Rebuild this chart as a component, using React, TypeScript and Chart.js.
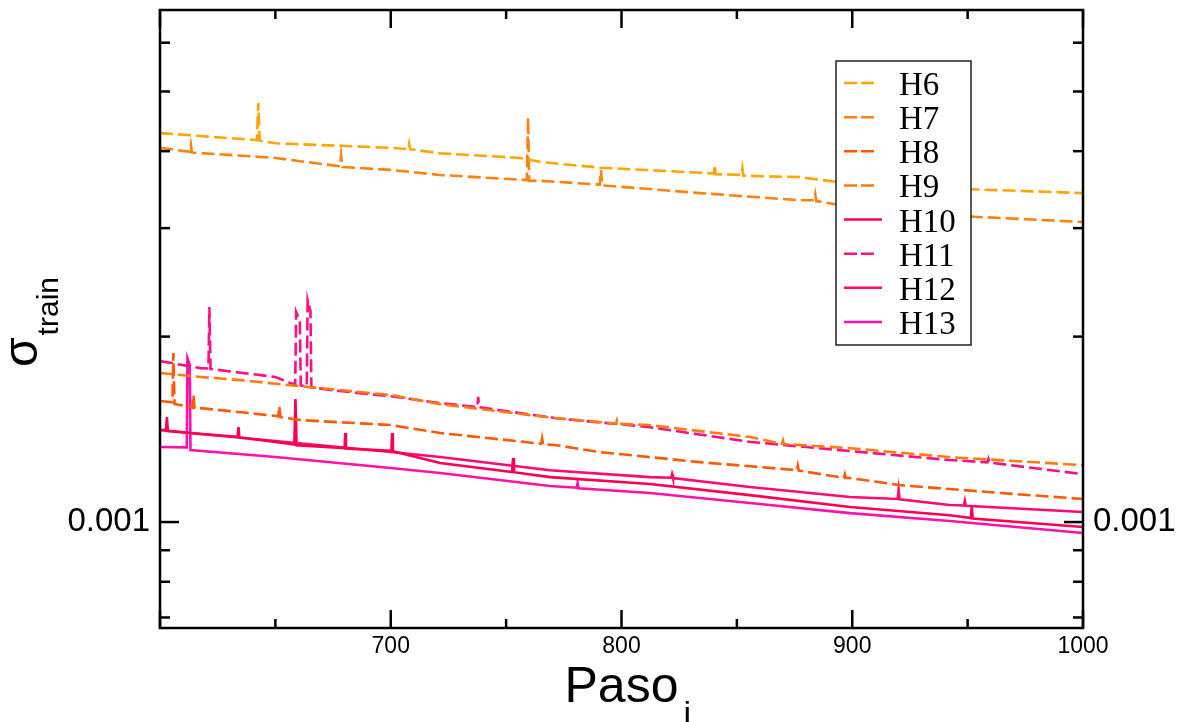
import React, { useEffect, useRef } from 'react';
import { Chart, registerables } from 'chart.js';
Chart.register(...registerables);

const X_MIN = 600;
const X_MAX = 1000;
const Y_MIN = 6.73e-4;
const Y_MAX = 6.78e-3;
const yTickValues = [7e-4, 8e-4, 9e-4, 1e-3, 2e-3, 3e-3, 4e-3, 5e-3, 6e-3];
const yLabeledTicks = [1e-3];
const xLabeledTicks = [700, 800, 900, 1000];

const seriesNames = ['H6', 'H7', 'H8', 'H9', 'H10', 'H11', 'H12', 'H13'];
const seriesColors = ['#FFA500', '#FF8210', '#FF5A00', '#FF7A10', '#FF0050', '#FF1080', '#FF0A70', '#FF10AA'];
const seriesDashed = [true, true, true, true, false, true, false, false];

const h6X = [600, 630, 642, 642.6, 643.2, 650, 700, 707.6, 708, 708.4, 721, 756, 765, 791, 834, 840, 840.4, 840.8, 852, 852.4, 852.8, 877, 895, 951, 1000];
const h6Y = [4.28e-3, 4.20e-3, 4.17e-3, 4.79e-3, 4.16e-3, 4.12e-3, 4.05e-3, 4.03e-3, 4.11e-3, 4.03e-3, 3.97e-3, 3.90e-3, 3.84e-3, 3.76e-3, 3.69e-3, 3.68e-3, 3.80e-3, 3.67e-3, 3.66e-3, 3.75e-3, 3.65e-3, 3.63e-3, 3.56e-3, 3.47e-3, 3.42e-3];

const h7X = [600, 613, 613.4, 613.8, 650, 678, 678.5, 679, 700, 721, 759, 759.5, 760, 765, 790.6, 791.1, 791.6, 834, 877, 883.6, 884, 884.4, 895, 953, 1000];
const h7Y = [4.05e-3, 3.99e-3, 4.09e-3, 3.98e-3, 3.90e-3, 3.78e-3, 3.94e-3, 3.77e-3, 3.73e-3, 3.66e-3, 3.59e-3, 4.54e-3, 3.58e-3, 3.58e-3, 3.53e-3, 3.73e-3, 3.52e-3, 3.42e-3, 3.33e-3, 3.33e-3, 3.40e-3, 3.32e-3, 3.27e-3, 3.13e-3, 3.07e-3];

const h8X = [600, 605.4, 605.8, 606.3, 614, 614.5, 615, 617.5, 630.5, 651.3, 651.7, 652.2, 661, 700, 721.4, 765.3, 765.6, 766, 771, 790.7, 834, 876, 876.4, 876.8, 896.4, 896.8, 897.2, 899, 920.6, 963.8, 1000];
const h8Y = [1.572e-3, 1.565e-3, 1.881e-3, 1.555e-3, 1.535e-3, 1.608e-3, 1.530e-3, 1.531e-3, 1.514e-3, 1.485e-3, 1.543e-3, 1.480e-3, 1.464e-3, 1.437e-3, 1.395e-3, 1.340e-3, 1.365e-3, 1.337e-3, 1.334e-3, 1.299e-3, 1.251e-3, 1.214e-3, 1.235e-3, 1.212e-3, 1.180e-3, 1.195e-3, 1.180e-3, 1.179e-3, 1.148e-3, 1.115e-3, 1.090e-3];

const h9X = [600, 617.5, 634.8, 656.5, 678, 700, 721.4, 771, 797.6, 798, 798.4, 812, 856, 869.6, 870, 870.4, 899, 942, 1000];
const h9Y = [1.746e-3, 1.720e-3, 1.700e-3, 1.668e-3, 1.638e-3, 1.608e-3, 1.554e-3, 1.475e-3, 1.445e-3, 1.462e-3, 1.444e-3, 1.437e-3, 1.374e-3, 1.340e-3, 1.356e-3, 1.339e-3, 1.318e-3, 1.275e-3, 1.237e-3];

const h10X = [600, 602.6, 603, 603.4, 617.5, 633.6, 634, 634.4, 650, 658.2, 658.7, 659.2, 680, 680.3, 680.6, 700.3, 700.6, 700.9, 721.4, 752.6, 753, 753.4, 769, 812.3, 855.6, 899, 942.2, 951.4, 951.8, 952.2, 1000];
const h10Y = [1.411e-3, 1.410e-3, 1.480e-3, 1.405e-3, 1.390e-3, 1.375e-3, 1.426e-3, 1.372e-3, 1.349e-3, 1.336e-3, 1.584e-3, 1.333e-3, 1.318e-3, 1.395e-3, 1.316e-3, 1.305e-3, 1.395e-3, 1.303e-3, 1.247e-3, 1.206e-3, 1.270e-3, 1.205e-3, 1.183e-3, 1.153e-3, 1.106e-3, 1.058e-3, 1.026e-3, 1.015e-3, 1.058e-3, 1.013e-3, 0.9815e-3];

const h11X = [600, 617.5, 621.0, 621.4, 621.9, 650, 656.5, 658.6, 659.0, 660.6, 661.0, 663.6, 664.0, 665.2, 665.6, 673.8, 700, 721.4, 737.5, 737.9, 738.3, 771, 812, 856, 899, 942, 958.6, 959, 959.4, 1000];
const h11Y = [1.825e-3, 1.778e-3, 1.775e-3, 2.234e-3, 1.772e-3, 1.720e-3, 1.681e-3, 1.672e-3, 2.193e-3, 2.120e-3, 1.666e-3, 1.660e-3, 2.293e-3, 2.200e-3, 1.655e-3, 1.638e-3, 1.600e-3, 1.560e-3, 1.537e-3, 1.596e-3, 1.536e-3, 1.475e-3, 1.426e-3, 1.349e-3, 1.304e-3, 1.261e-3, 1.250e-3, 1.265e-3, 1.249e-3, 1.196e-3];

const h12X = [600, 650, 700, 721.4, 769, 812.3, 821.5, 821.9, 822.3, 855.6, 899, 919.7, 920.1, 920.5, 942.2, 948.4, 948.8, 949.2, 1000];
const h12Y = [1.411e-3, 1.354e-3, 1.299e-3, 1.275e-3, 1.214e-3, 1.183e-3, 1.180e-3, 1.196e-3, 1.179e-3, 1.140e-3, 1.098e-3, 1.090e-3, 1.127e-3, 1.089e-3, 1.066e-3, 1.064e-3, 1.082e-3, 1.063e-3, 1.038e-3];

const h13X = [600, 611.6, 611.9, 612.9, 613.2, 650, 700, 721.4, 769, 780.6, 781, 781.4, 812.3, 855.6, 899, 942.2, 1000];
const h13Y = [1.324e-3, 1.322e-3, 1.846e-3, 1.800e-3, 1.309e-3, 1.275e-3, 1.224e-3, 1.201e-3, 1.144e-3, 1.137e-3, 1.157e-3, 1.135e-3, 1.115e-3, 1.074e-3, 1.034e-3, 1.004e-3, 0.9597e-3];

const seriesX = [h6X, h7X, h8X, h9X, h10X, h11X, h12X, h13X];
const seriesY = [h6Y, h7Y, h8Y, h9Y, h10Y, h11Y, h12Y, h13Y];

const SANS = '"Liberation Sans", Arial, Helvetica, sans-serif';
const SERIF = '"Liberation Serif", "Times New Roman", serif';
const DASH = [13, 5];

const isMajorY = (v: number) => yLabeledTicks.some((t) => Math.abs(t - v) < 1e-12);

const decorPlugin = {
  id: 'decor',
  afterDatasetsDraw(chart: any) {
    const { ctx, chartArea: a, scales } = chart;
    ctx.save();
    ctx.strokeStyle = '#000';
    ctx.lineWidth = 2.5;
    ctx.setLineDash([]);
    const seg = (x1: number, y1: number, x2: number, y2: number) => {
      ctx.beginPath();
      ctx.moveTo(x1, y1);
      ctx.lineTo(x2, y2);
      ctx.stroke();
    };
    const xs = scales.x;
    xs.ticks.forEach((t: any) => {
      const px = xs.getPixelForValue(t.value);
      const len = t.value % 100 === 0 ? 18 : 9;
      seg(px, a.bottom, px, a.bottom - len);
      seg(px, a.top, px, a.top + len);
    });
    const ys = scales.y;
    ys.ticks.forEach((t: any) => {
      const py = ys.getPixelForValue(t.value);
      const len = isMajorY(t.value) ? 19 : 10;
      seg(a.left, py, a.left + len, py);
      seg(a.right, py, a.right - len, py);
    });
    ctx.strokeRect(a.left, a.top, a.right - a.left, a.bottom - a.top);
    ctx.restore();
  },
  afterDraw(chart: any) {
    const { ctx, chartArea: a } = chart;
    ctx.save();
    // Legend
    const lx = a.right - 247;
    const ly = a.top + 51;
    const lw = 135;
    const lh = 284;
    ctx.fillStyle = '#fff';
    ctx.fillRect(lx, ly, lw, lh);
    ctx.strokeStyle = '#222';
    ctx.lineWidth = 1.5;
    ctx.strokeRect(lx, ly, lw, lh);
    chart.data.datasets.forEach((ds: any, i: number) => {
      const y = ly + 22 + i * 34.14;
      ctx.strokeStyle = ds.borderColor;
      ctx.lineWidth = 2.5;
      const dashed = seriesDashed[i];
      ctx.setLineDash(dashed ? [13, 4] : []);
      ctx.beginPath();
      ctx.moveTo(lx + 8, y);
      ctx.lineTo(lx + (dashed ? 38 : 46), y);
      ctx.stroke();
      ctx.setLineDash([]);
      ctx.fillStyle = '#000';
      ctx.font = '33px ' + SERIF;
      ctx.textAlign = 'left';
      ctx.textBaseline = 'alphabetic';
      ctx.fillText(ds.label, lx + 63, y + 12);
    });
    // X title: Paso_i
    ctx.fillStyle = '#000';
    ctx.textBaseline = 'alphabetic';
    ctx.textAlign = 'left';
    ctx.font = '50px ' + SANS;
    const pw = ctx.measureText('Paso').width;
    const cx = (a.left + a.right) / 2;
    const px0 = cx - pw / 2;
    ctx.fillText('Paso', px0, 702);
    ctx.font = '34px ' + SANS;
    ctx.fillText('i', px0 + pw + 5, 725);
    // Y title: sigma_train
    ctx.translate(37, 367);
    ctx.rotate(-Math.PI / 2);
    ctx.font = '48px ' + SANS;
    const sw = ctx.measureText('σ').width;
    ctx.fillText('σ', 0, 0);
    ctx.font = '30px ' + SANS;
    ctx.fillText('train', sw + 2, 21);
    ctx.restore();
  },
};

export default function App() {
  const ref = useRef<HTMLCanvasElement | null>(null);
  useEffect(() => {
    if (!ref.current) return;
    const datasets = seriesNames.map((name, i) => ({
      label: name,
      data: seriesX[i].map((x, j) => ({ x, y: seriesY[i][j] })),
      borderColor: seriesColors[i],
      backgroundColor: seriesColors[i],
      borderWidth: 2.6,
      borderDash: seriesDashed[i] ? DASH : [],
      pointRadius: 0,
      tension: 0,
      fill: false,
    }));
    const yCommon = (position: string, width: number) => ({
      type: 'logarithmic' as const,
      position,
      min: Y_MIN,
      max: Y_MAX,
      grid: { display: false, drawTicks: false },
      border: { display: false },
      afterBuildTicks: (s: any) => {
        s.ticks = yTickValues.map((v) => ({ value: v }));
      },
      afterFit: (s: any) => {
        s.width = width;
        s.paddingTop = 0;
        s.paddingBottom = 0;
        s.paddingLeft = 0;
        s.paddingRight = 0;
      },
      ticks: {
        autoSkip: false,
        padding: 10,
        color: '#000',
        font: { family: SANS, size: 33 },
        callback: (v: any) => (isMajorY(Number(v)) ? '0.001' : ''),
      },
    });
    const chart = new Chart(ref.current, {
      type: 'line',
      data: { datasets },
      options: {
        responsive: false,
        animation: false,
        layout: { padding: { top: 10, left: 0, right: 0, bottom: 0 } },
        plugins: { legend: { display: false }, tooltip: { enabled: false } },
        scales: {
          x: {
            type: 'linear',
            position: 'bottom',
            min: X_MIN,
            max: X_MAX,
            grid: { display: false, drawTicks: false },
            border: { display: false },
            afterFit: (s: any) => {
              s.height = 94;
              s.paddingLeft = 0;
              s.paddingRight = 0;
              s.paddingTop = 0;
              s.paddingBottom = 0;
            },
            ticks: {
              stepSize: 50,
              autoSkip: false,
              maxRotation: 0,
              padding: 5,
              color: '#000',
              font: { family: SANS, size: 23 },
              callback: (v: any) => (xLabeledTicks.includes(Number(v)) ? String(v) : ''),
            },
          },
          y: yCommon('left', 160) as any,
          y2: yCommon('right', 109) as any,
        },
      },
      plugins: [decorPlugin],
    });
    return () => chart.destroy();
  }, []);
  return (
    <div style={{ position: 'absolute', left: 0, top: 0, width: 1192, height: 722, background: '#fff' }}>
      <canvas ref={ref} width={1192} height={722} style={{ display: 'block' }} />
    </div>
  );
}
